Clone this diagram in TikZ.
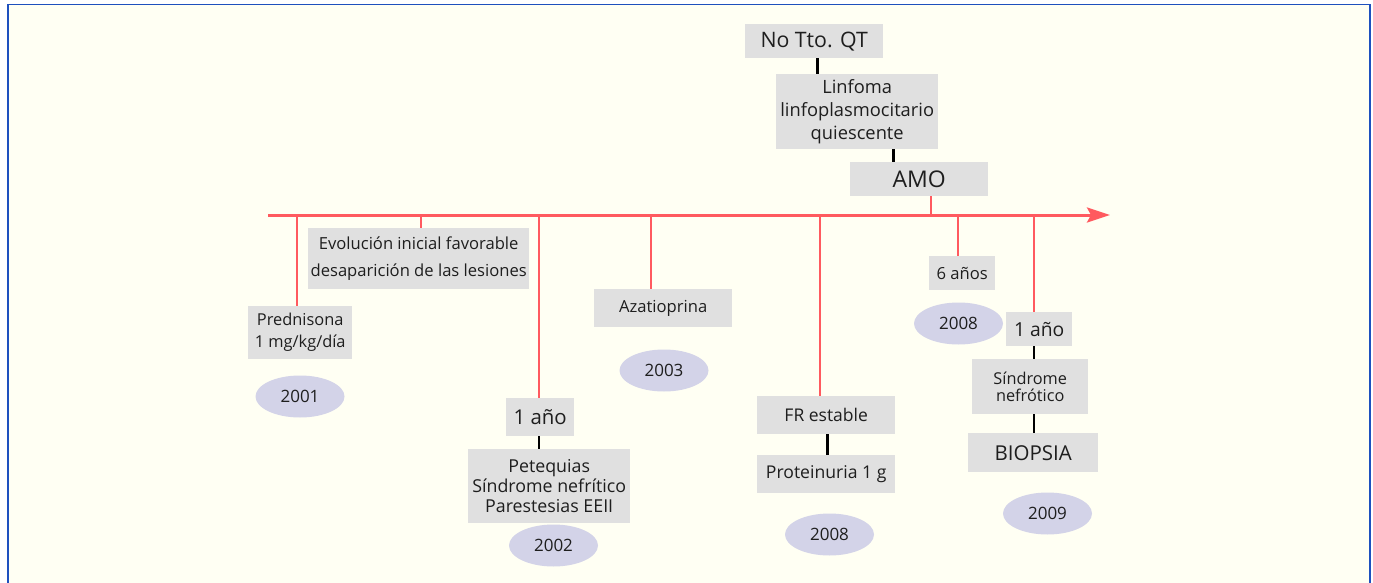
\documentclass[tikz,border=0pt]{standalone}
\usepackage{fontspec}
\setmainfont{Open Sans}
\usetikzlibrary{arrows.meta,calc,shapes.geometric}
\definecolor{cream}{RGB}{255,255,243}
\definecolor{framebl}{RGB}{30,80,190}
\definecolor{tlred}{RGB}{255,90,95}
\definecolor{boxgray}{RGB}{224,224,224}
\definecolor{yearfill}{RGB}{211,211,232}
\definecolor{txt}{RGB}{30,30,30}
\tikzset{
  box/.style={fill=boxgray, inner sep=0pt, align=center, text=txt, anchor=north west},
  yearel/.style={ellipse, fill=yearfill, inner sep=0pt, minimum width=89pt, minimum height=42pt, text=txt, font=\fontsize{17}{18}\selectfont},
  redline/.style={draw=tlred, line width=2.6pt},
  blkline/.style={draw=black, line width=2.6pt}
}
\begin{document}
\begin{tikzpicture}[x=1pt,y=-1pt]
\useasboundingbox (0,0) rectangle (1373,583);
\fill[white] (0,0) rectangle (1373,583);
\fill[cream] (8,4.5) rectangle (1370,583);
\draw[framebl, line width=1.6pt] (8,583) -- (8,4.5) -- (1370,4.5) -- (1370,583);

% axis
\coordinate (a0) at (268,215);
\coordinate (aend) at (1110,215);
\coordinate (t1) at (297,215);
\coordinate (t2) at (421,215);
\coordinate (t3) at (539,215);
\coordinate (t4) at (651,215);
\coordinate (t5) at (820,215);
\coordinate (t6) at (931,215);
\coordinate (t7) at (958,215);
\coordinate (t8) at (1034,215);

% top boxes
\node[box, font=\fontsize{21.3}{26}\selectfont, minimum width=138pt, minimum height=34pt] (notto) at (745,24) {No Tto. QT};
\node[box, font=\fontsize{18.3}{23}\selectfont, minimum width=162pt, minimum height=75pt] (linf) at (776,74) {Linfoma\\linfoplasmocitario\\quiescente};
\node[box, font=\fontsize{23}{26}\selectfont, minimum width=138pt, minimum height=34pt] (amo) at (850,162) {AMO};

% lower boxes
\node[box, font=\fontsize{16.6}{26.5}\selectfont, minimum width=221pt, minimum height=61pt] (evol) at (308,228) {Evolución inicial favorable\\desaparición de las lesiones};
\node[box, font=\fontsize{16.4}{22}\selectfont, minimum width=104pt, minimum height=53pt] (pred) at (248,306) {Prednisona\\1 mg/kg/día};
\node[box, font=\fontsize{16.6}{18}\selectfont, minimum width=138pt, minimum height=38pt] (aza) at (594,289) {Azatioprina};
\node[box, font=\fontsize{20.4}{24}\selectfont, minimum width=68pt, minimum height=38pt] (anio1) at (506,398) {1 año};
\node[box, font=\fontsize{17.8}{20}\selectfont, minimum width=162pt, minimum height=74pt] (pete) at (468,449) {Petequias\\Síndrome nefrítico\\Parestesias EEII};
\node[box, font=\fontsize{17.5}{20}\selectfont, minimum width=138pt, minimum height=38pt] (fr) at (757,396) {FR estable};
\node[box, font=\fontsize{17.6}{20}\selectfont, minimum width=138pt, minimum height=38pt] (prot) at (757,455) {Proteinuria 1 g};
\node[box, font=\fontsize{16.6}{18}\selectfont, minimum width=66pt, minimum height=34pt] (seis) at (929,256) {6 años};
\node[box, font=\fontsize{19.3}{22}\selectfont, minimum width=66pt, minimum height=34pt] (anio2) at (1006,312) {1 año};
\node[box, font=\fontsize{16.3}{17}\selectfont, minimum width=116pt, minimum height=55pt] (sind) at (972,359) {Síndrome\\nefrótico};
\node[box, font=\fontsize{20.5}{24}\selectfont, minimum width=130pt, minimum height=39pt] (biop) at (968,433) {BIOPSIA};

% years
\node[yearel] (y2001) at (300,396.5) {2001};
\node[yearel] (y2003) at (664,370.5) {2003};
\node[yearel] (y2002) at (553.5,545.5) {2002};
\node[yearel] (y2008a) at (829.5,534.5) {2008};
\node[yearel] (y2008b) at (958.5,323.5) {2008};
\node[yearel] (y2009) at (1047.5,513.5) {2009};

% red ticks
\draw[redline] (t1) -- (t1 |- pred.north);
\draw[redline] (t2) -- (t2 |- evol.north);
\draw[redline] (t3) -- (t3 |- anio1.north);
\draw[redline] (t4) -- (t4 |- aza.north);
\draw[redline] (t5) -- (t5 |- fr.north);
\draw[redline] (t6) -- (t6 |- amo.south);
\draw[redline] (t7) -- (t7 |- seis.north);
\draw[redline] (t8) -- (t8 |- anio2.north);
\draw[tlred, line width=3pt, -{Stealth[length=23pt, width=15pt, inset=4pt]}] (a0) -- (aend);

% black connectors
\draw[blkline] ([xshift=3pt]notto.south) -- ([xshift=3pt]notto.south |- linf.north);
\draw[blkline] ([xshift=36pt]linf.south) -- ([xshift=36pt]linf.south |- amo.north);
\draw[blkline] (t3 |- anio1.south) -- (t3 |- pete.north);
\draw[blkline] ([xshift=1pt]fr.south) -- ([xshift=1pt]fr.south |- prot.north);
\draw[blkline] (t8 |- anio2.south) -- (t8 |- sind.north);
\draw[blkline] (t8 |- sind.south) -- (t8 |- biop.north);
\end{tikzpicture}
\end{document}
